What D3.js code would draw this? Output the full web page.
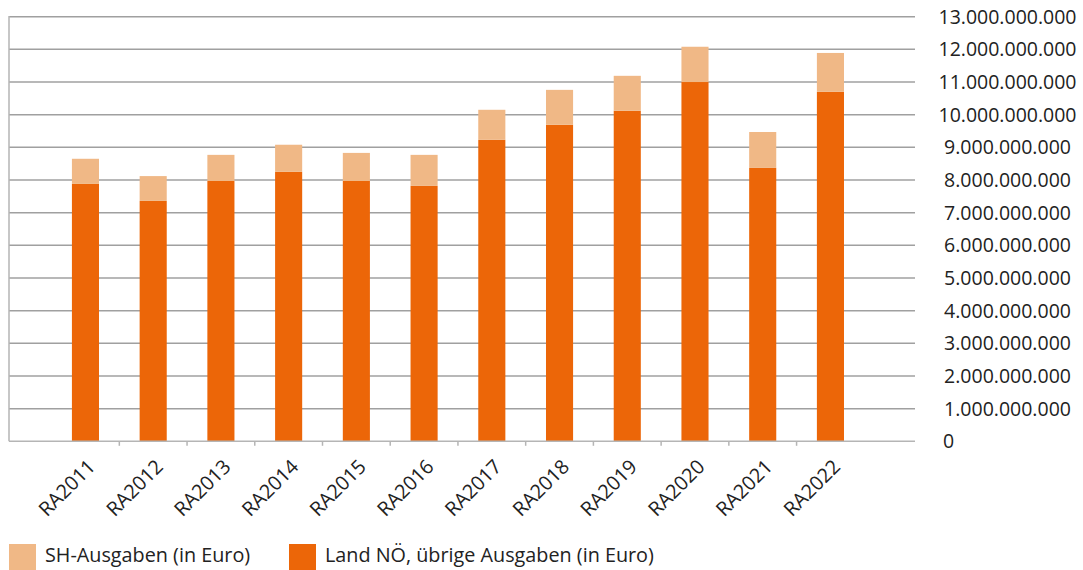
<!DOCTYPE html>
<html>
<head>
<meta charset="utf-8">
<script src="https://cdn.jsdelivr.net/npm/d3@7"></script>
<style>
  html, body { margin: 0; padding: 0; background: #fff; }
  svg { display: block; }
  text { font-family: "Open Sans", sans-serif; fill: #222; }
</style>
</head>
<body>
<svg id="chart" width="1083" height="570"></svg>
<script>
const categories = ["RA2011","RA2012","RA2013","RA2014","RA2015","RA2016","RA2017","RA2018","RA2019","RA2020","RA2021","RA2022"];
// Land NÖ, übrige Ausgaben (in Euro)
const landValues = [7.88e9, 7.36e9, 7.97e9, 8.25e9, 7.97e9, 7.82e9, 9.23e9, 9.69e9, 10.12e9, 11.00e9, 8.37e9, 10.70e9];
// SH-Ausgaben (in Euro)
const shValues = [0.77e9, 0.76e9, 0.80e9, 0.83e9, 0.86e9, 0.95e9, 0.92e9, 1.07e9, 1.07e9, 1.08e9, 1.10e9, 1.19e9];
const yTicks = [0,1e9,2e9,3e9,4e9,5e9,6e9,7e9,8e9,9e9,10e9,11e9,12e9,13e9];
const seriesNames = ["SH-Ausgaben (in Euro)", "Land NÖ, übrige Ausgaben (in Euro)"];
const colLand = "#EC6608", colSH = "#F0B886";

const svg = d3.select("#chart");
const plotLeft = 9, plotRight = 915, plotTop = 16.7, plotBottom = 441.3;

const y = d3.scaleLinear().domain([0, 13e9]).range([plotBottom, plotTop]);
const x = d3.scaleBand().domain(categories).range([51.6, 864.3]).paddingInner(0.6).paddingOuter(0.3);

// gridlines
svg.append("g").selectAll("line").data(yTicks.filter(d => d > 0)).join("line")
  .attr("x1", plotLeft).attr("x2", plotRight)
  .attr("y1", d => y(d)).attr("y2", d => y(d))
  .attr("stroke", "#a0a0a0").attr("stroke-width", 1.5);

// y labels (right side)
const fmt = v => d3.format(",")(v).replace(/,/g, ".");
svg.append("g").selectAll("text").data(yTicks).join("text")
  .attr("x", d => d === 0 ? 943 : 1007.5)
  .attr("y", d => y(d))
  .attr("dy", "0.36em")
  .attr("text-anchor", d => d === 0 ? "start" : "middle")
  .style("font-size", "19.5px")
  .text(fmt);

// stacked bars
const stackData = categories.map((c, i) => ({cat: c, land: landValues[i], sh: shValues[i]}));
const stack = d3.stack().keys(["land", "sh"])(stackData);
const colors = {land: colLand, sh: colSH};
svg.append("g").selectAll("g").data(stack).join("g")
  .attr("fill", s => colors[s.key])
  .selectAll("rect").data(s => s).join("rect")
  .attr("x", d => x(d.data.cat))
  .attr("width", x.bandwidth())
  .attr("y", d => y(d[1]))
  .attr("height", d => y(d[0]) - y(d[1]));

// axes lines
svg.append("line").attr("x1", plotLeft).attr("x2", plotLeft).attr("y1", plotTop - 0.7).attr("y2", plotBottom)
  .attr("stroke", "#b5b5b5").attr("stroke-width", 1.5);
svg.append("line").attr("x1", plotLeft).attr("x2", plotRight).attr("y1", plotBottom).attr("y2", plotBottom)
  .attr("stroke", "#b5b5b5").attr("stroke-width", 1.5);

// category ticks between bars
const step = x.step();
svg.append("g").selectAll("line").data(categories.slice(1)).join("line")
  .attr("x1", d => x(d) + x.bandwidth() / 2 - step / 2)
  .attr("x2", d => x(d) + x.bandwidth() / 2 - step / 2)
  .attr("y1", plotBottom).attr("y2", plotBottom + 4.5)
  .attr("stroke", "#b5b5b5").attr("stroke-width", 1.5);

// category labels
svg.append("g").selectAll("text").data(categories).join("text")
  .attr("text-anchor", "end")
  .attr("transform", d => `translate(${x(d) + x.bandwidth() / 2 + 11},${468}) rotate(-45)`)
  .style("font-size", "19.8px")
  .text(d => d);

// legend
const legend = svg.append("g");
const legItems = [{name: seriesNames[0], color: colSH, x: 9}, {name: seriesNames[1], color: colLand, x: 289}];
legItems.forEach(it => {
  legend.append("rect").attr("x", it.x).attr("y", 544).attr("width", 27).attr("height", 26).attr("fill", it.color);
  legend.append("text").attr("x", it.x + 36).attr("y", 562).style("font-size", "19.8px").text(it.name);
});
</script>
</body>
</html>
